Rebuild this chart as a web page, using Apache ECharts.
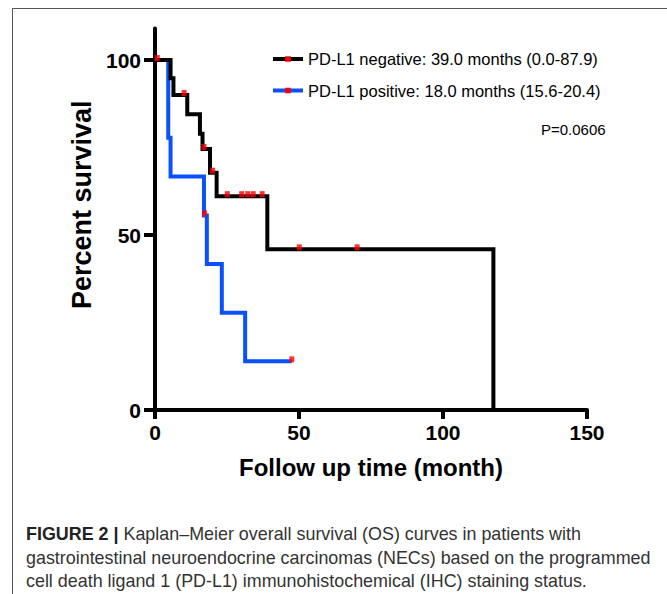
<!DOCTYPE html>
<html>
<head>
<meta charset="utf-8">
<script src="https://cdn.jsdelivr.net/npm/echarts@6/dist/echarts.min.js"></script>
<style>
  html, body { margin: 0; padding: 0; background: #fff; }
  #wrap { position: relative; width: 667px; height: 594px; overflow: hidden; background: #fff; }
  #frame { position: absolute; left: 12px; top: 8px; width: 700px; height: 640px;
           border-left: 1px solid #555; border-top: 1px solid #555; box-sizing: border-box; }
  #chart { position: absolute; left: 0; top: 0; width: 667px; height: 594px; }
  #caption { position: absolute; left: 26px; top: 523px; font-family: "Liberation Sans", Arial, sans-serif;
             font-size: 17.9px; line-height: 23.5px; color: #333; white-space: nowrap; }
  #caption b { color: #222; }
</style>
</head>
<body>
<div id="wrap">
  <div id="frame"></div>
  <div id="chart"></div>
  <div id="caption"><b>FIGURE 2 |</b> Kaplan–Meier overall survival (OS) curves in patients with<br>gastrointestinal neuroendocrine carcinomas (NECs) based on the programmed<br>cell death ligand 1 (PD-L1) immunohistochemical (IHC) staining status.</div>
</div>
<script>
// ---- data ----
const negName = 'PD-L1 negative: 39.0 months (0.0-87.9)';
const posName = 'PD-L1 positive: 18.0 months (15.6-20.4)';
const pValueText = 'P=0.0606';

const negTime = [0, 5.4, 6.4, 11.2, 15.6, 16.5, 19.1, 21.4, 39.0, 117.5];
const negSurv = [100, 94.8, 90.0, 84.5, 78.9, 74.6, 67.8, 61.1, 45.9, 0];
const negCensorTime = [0.8, 10.1, 17.0, 20.0, 25.1, 30.1, 32.2, 34.1, 37.2, 50.1, 70.2];
const negCensorSurv = [100, 90.0, 74.6, 67.8, 61.1, 61.1, 61.1, 61.1, 61.1, 45.9, 45.9];

const posTime = [0, 4.6, 5.4, 17.0, 18.0, 23.2, 31.3, 47.5];
const posSurv = [100, 77.8, 66.7, 55.6, 41.7, 27.8, 13.9, 13.9];
const posCensorTime = [17.2, 47.5];
const posCensorSurv = [55.6, 13.9];

const xTicks = [0, 50, 100, 150];
const yTicks = [0, 50, 100];
const xTitle = 'Follow up time (month)';
const yTitle = 'Percent survival';

const zip = (a, b) => a.map((v, i) => [v, b[i]]);

const FONT = '"Liberation Sans", Arial, Helvetica, sans-serif';
const chart = echarts.init(document.getElementById('chart'), null, { renderer: 'svg' });

chart.setOption({
  animation: false,
  backgroundColor: 'transparent',
  textStyle: { fontFamily: FONT },
  grid: { left: 155, right: 80, top: 28.5, bottom: 184, containLabel: false },
  title: {
    text: pValueText, left: 541, top: 122, padding: 0,
    textStyle: { fontFamily: FONT, fontSize: 15, fontWeight: 'normal', color: '#000' }
  },
  legend: {
    left: 271, top: 50.5, orient: 'vertical', padding: 0,
    itemWidth: 30, itemHeight: 7, itemGap: 14.5,
    textStyle: { fontFamily: FONT, fontSize: 16.5, color: '#000' },
    data: [
      { name: negName, itemStyle: { color: '#ff0000' }, lineStyle: { color: '#000', width: 4 } },
      { name: posName, itemStyle: { color: '#ff0000' }, lineStyle: { color: '#0a50ff', width: 4 } }
    ]
  },
  xAxis: {
    type: 'value', min: xTicks[0], max: xTicks[xTicks.length - 1], interval: 50,
    name: xTitle, nameLocation: 'middle', nameGap: 45,
    nameTextStyle: { fontFamily: FONT, fontSize: 24, fontWeight: 'bold', color: '#000' },
    axisLine: { show: true, lineStyle: { color: '#000', width: 4 } },
    axisTick: { show: true, length: 9, lineStyle: { color: '#000', width: 4 } },
    axisLabel: { fontFamily: FONT, fontSize: 21, fontWeight: 'bold', color: '#000', margin: 12,
                 customValues: xTicks },
    splitLine: { show: false }
  },
  yAxis: {
    type: 'value', min: 0, max: 109,
    name: yTitle, nameLocation: 'middle', nameGap: 58, nameRotate: 90,
    nameTextStyle: { fontFamily: FONT, fontSize: 27, fontWeight: 'bold', color: '#000',
                     padding: [0, 0, 0, 29] },
    axisLine: { show: true, lineStyle: { color: '#000', width: 4 } },
    axisTick: { show: true, length: 11, lineStyle: { color: '#000', width: 4 }, customValues: yTicks },
    axisLabel: { fontFamily: FONT, fontSize: 21, fontWeight: 'bold', color: '#000', margin: 14,
                 customValues: yTicks },
    splitLine: { show: false }
  },
  series: [
    {
      name: posName, type: 'line', step: 'end', data: zip(posTime, posSurv),
      showSymbol: false, symbol: 'rect', symbolSize: [5, 6],
      itemStyle: { color: '#ff0000' },
      lineStyle: { color: '#0a50ff', width: 4, join: 'miter', cap: 'butt' },
      z: 2, silent: true
    },
    {
      name: negName, type: 'line', step: 'end', data: zip(negTime, negSurv),
      showSymbol: false, symbol: 'rect', symbolSize: [5, 6],
      itemStyle: { color: '#ff0000' },
      lineStyle: { color: '#000', width: 4, join: 'miter', cap: 'butt' },
      z: 3, silent: true
    },
    {
      name: 'neg-censor', type: 'scatter', data: zip(negCensorTime, negCensorSurv),
      symbol: 'rect', symbolSize: [5, 6], symbolOffset: [0, -2],
      itemStyle: { color: '#ff0000' }, z: 5, silent: true
    },
    {
      name: 'pos-censor', type: 'scatter', data: zip(posCensorTime, posCensorSurv),
      symbol: 'rect', symbolSize: [5, 6], symbolOffset: [0, -2],
      itemStyle: { color: '#ff0000' }, z: 5, silent: true
    }
  ]
});
</script>
</body>
</html>
